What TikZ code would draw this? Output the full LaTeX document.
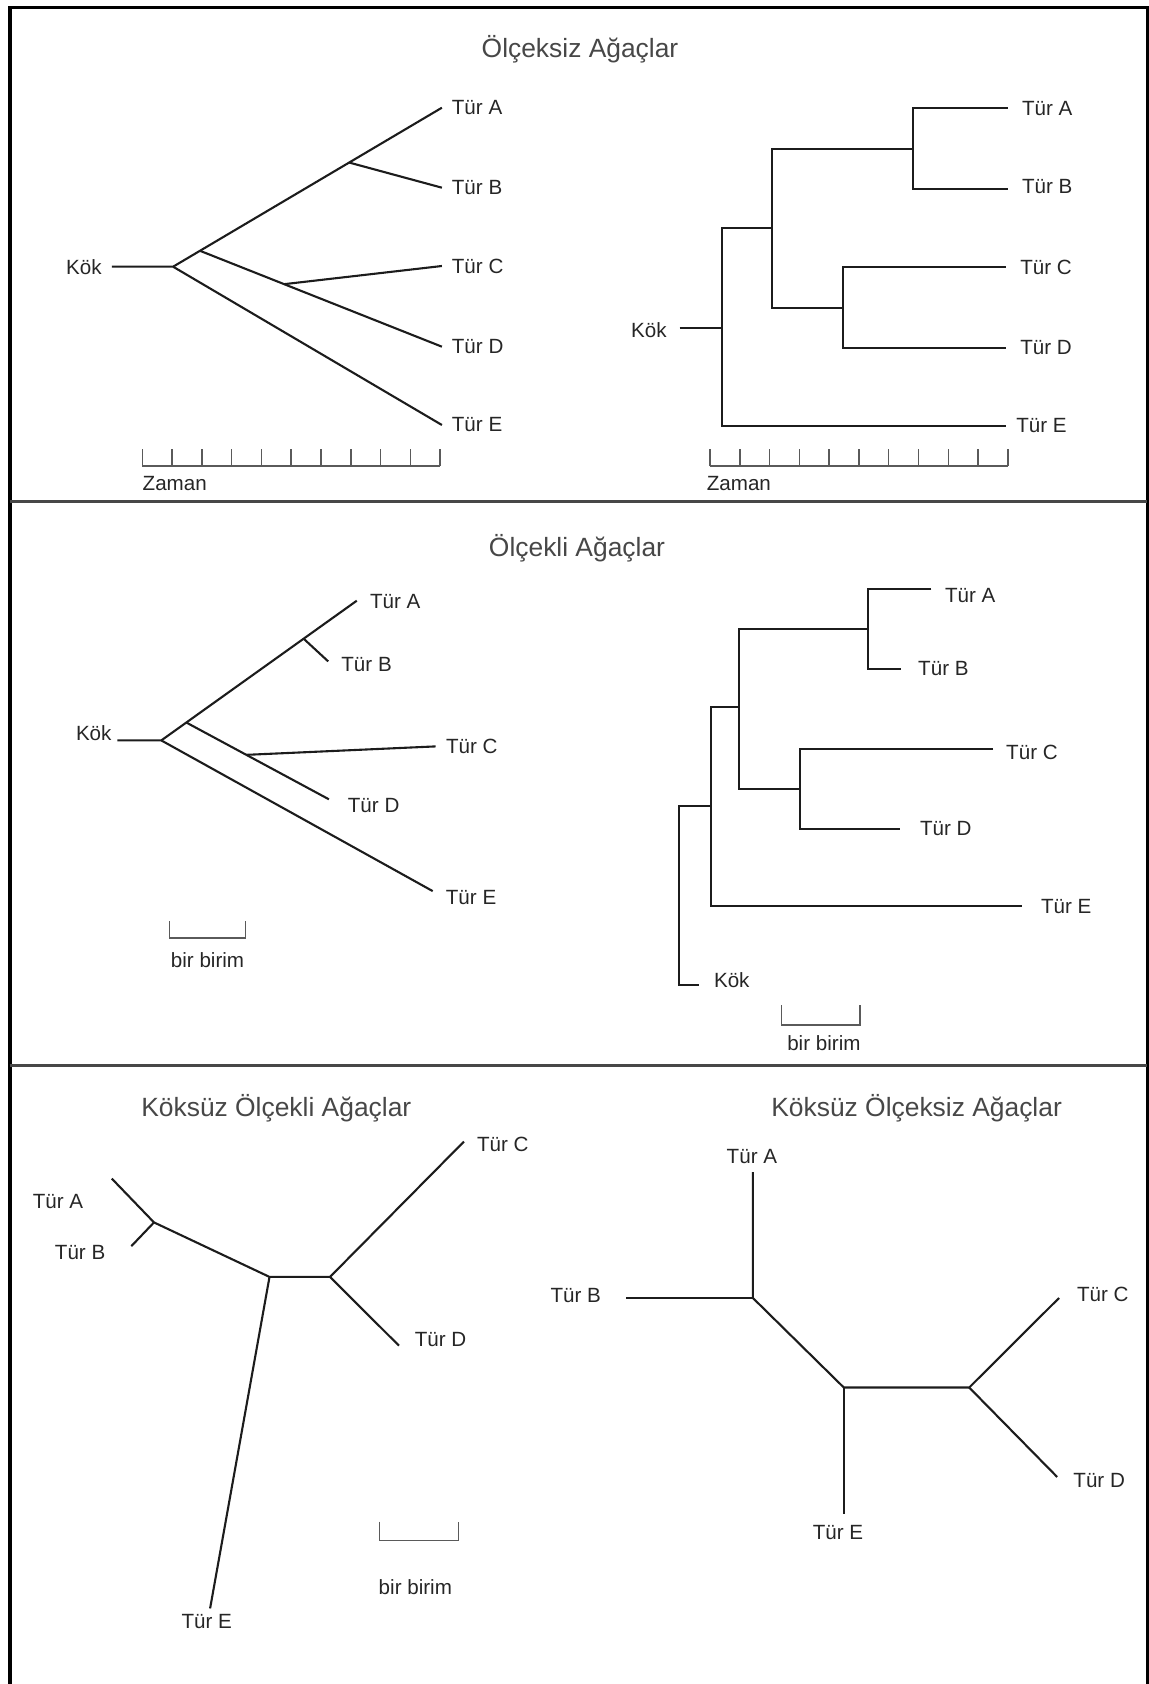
\documentclass[tikz,border=0pt]{standalone}
\usepackage{fontspec}
\setmainfont{Liberation Sans}
\usepackage{tikz}
\usetikzlibrary{positioning, calc}
\definecolor{treeInk}{HTML}{1C1C1C}
\definecolor{labelInk}{HTML}{262626}
\definecolor{titleInk}{HTML}{474747}
\definecolor{rulerInk}{HTML}{5A5A5A}

\begin{document}
\begin{tikzpicture}[
  x=0.5pt, y=-0.5pt,
  outerframe/.style={
    draw=black,
    line width=1.5pt,
    line join=miter
  },
  divider/.style={
    draw=black!72,
    line width=1.5pt
  },
  branch/.style={
    draw=treeInk,
    line width=1.05pt,
    line join=miter
  },
  ruler/.style={
    draw=rulerInk,
    line width=0.75pt
  },
  paneltitle/.style={
    text=titleInk,
    font=\fontsize{13.2}{16}\selectfont,
    inner sep=0pt
  },
  species/.style={
    text=labelInk,
    font=\fontsize{10.3}{12}\selectfont,
    inner sep=0pt
  }
]
\useasboundingbox (0,0) rectangle (1149,1684);

% frame and panel dividers
\draw[outerframe] (9.5,1684) -- (9.5,7.7) -- (1147,7.7) -- (1147,1684);
\draw[outerframe, line width=2pt] (9.5,1684) -- (9.5,6.2);
\draw[divider] (9.5,501) -- (1147,501);
\draw[divider] (9.5,1065) -- (1147,1065);

% titles
\node[paneltitle] (h1) at (580,49) {Ölçeksiz Ağaçlar};
\node[paneltitle] (h2) at (577,548) {Ölçekli Ağaçlar};
\node[paneltitle] (h3) at (276.3,1108.5) {Köksüz Ölçekli Ağaçlar};
\node[paneltitle] (h4) at (916.6,1108.5) {Köksüz Ölçeksiz Ağaçlar};

% tree 1
\coordinate (t1k) at (111.8,266.7);
\coordinate (t1r) at (173.1,266.7);
\coordinate (t1a) at (441.9,107.7);
\coordinate (t1b) at (441.9,187.7);
\coordinate (t1c) at (441.9,266);
\coordinate (t1d) at (441.9,346.7);
\coordinate (t1e) at (441.9,425);
\coordinate (t1ab) at ($(t1r)!0.655!(t1a)$);
\coordinate (t1cd) at ($(t1r)!0.1!(t1a)$);
\coordinate (t1cj) at ($(t1cd)!0.348!(t1d)$);
\draw[branch] (t1k) -- (t1r) -- (t1a);
\draw[branch] (t1ab) -- (t1b);
\draw[branch] (t1cd) -- (t1d);
\draw[branch] (t1cj) -- (t1c);
\draw[branch] (t1r) -- (t1e);
\node[species, left=4.9pt of t1k] (l1k) {Kök};
\foreach \s/\n in {a/A,b/B,c/C,d/D,e/E}
  \node[species, right=4.8pt of t1\s] (l1\s) {Tür \n};

\coordinate (z1) at (142.3,466);
\coordinate (z1e) at (440.1,466);
\draw[ruler] (z1) -- (z1e);
\foreach \i in {0,...,10}
  \draw[ruler] ($(z1)!\i/10!(z1e)$) -- ++(0,-16.7);
\node[species, below right=5pt and 0pt of z1] (z1l) {Zaman};

% tree 2
\coordinate (t2k) at (679.5,327.7);
\coordinate (t2r) at (722.4,327.7);
\coordinate (t2abcd) at (771.9,227.7);
\coordinate (t2ab) at (913.1,149.3);
\coordinate (t2cd) at (842.7,308.3);
\coordinate (t2a) at (1007.7,108.3);
\coordinate (t2b) at (1007.7,189.3);
\coordinate (t2c) at (1005.9,267.3);
\coordinate (t2d) at (1005.9,347.7);
\coordinate (t2e) at (1005.9,426);
\draw[branch] (t2a) -| (t2ab) |- (t2b);
\draw[branch] (t2c) -| (t2cd) |- (t2d);
\draw[branch] (t2ab) -| (t2abcd) |- (t2cd);
\draw[branch] (t2abcd) -| (t2r) |- (t2e);
\draw[branch] (t2k) -- (t2r);
\node[species, left=6.2pt of t2k, yshift=-1.2pt] (l2k) {Kök};
\foreach \s/\n/\dx/\dy in {a/A/7pt/0pt,b/B/7pt/1.2pt,c/C/7pt/0pt,d/D/7pt/0pt,e/E/5pt/0pt}
  \node[species, right=\dx of t2\s, yshift=\dy] (l2\s) {Tür \n};

\coordinate (z2) at (710,466);
\coordinate (z2e) at (1007.8,466);
\draw[ruler] (z2) -- (z2e);
\foreach \i in {0,...,10}
  \draw[ruler] ($(z2)!\i/10!(z2e)$) -- ++(0,-16.7);
\node[species, below right=5pt and -1.8pt of z2] (z2l) {Zaman};

% tree 3
\coordinate (t3k) at (117.3,740.4);
\coordinate (t3r) at (161.3,740.4);
\coordinate (t3a) at (356.8,600.7);
\coordinate (t3b) at (328.2,661.4);
\coordinate (t3c) at (435.6,746.4);
\coordinate (t3d) at (328.9,799.3);
\coordinate (t3e) at (432.7,891.1);
\coordinate (t3ab) at ($(t3r)!0.728!(t3a)$);
\coordinate (t3cd) at ($(t3r)!0.128!(t3a)$);
\coordinate (t3cj) at ($(t3cd)!0.421!(t3d)$);
\draw[branch] (t3k) -- (t3r) -- (t3a);
\draw[branch] (t3ab) -- (t3b);
\draw[branch] (t3cd) -- (t3d);
\draw[branch] (t3cj) -- (t3c);
\draw[branch] (t3r) -- (t3e);
\node[species, anchor=base east] (l3k) at ([xshift=-2.7pt]t3k) {Kök};
\foreach \s/\n/\dx/\dy in {a/A/6.4pt/-0.5pt,b/B/6.4pt/-1.8pt,c/C/5pt/0pt,d/D/9.3pt/-3.3pt,e/E/6.4pt/-3pt}
  \node[species, right=\dx of t3\s, yshift=\dy] (l3\s) {Tür \n};

\coordinate (z3) at (169.4,938.2);
\coordinate (z3e) at (245.7,938.2);
\coordinate (z3m) at ($(z3)!0.5!(z3e)$);
\draw[ruler] (z3) ++(0,-16.8) -- (z3) -- (z3e) -- ++(0,-16.8);
\node[species, below=7pt of z3m] (z3l) {bir birim};

% tree 4
\coordinate (t4a) at (931.4,588.6);
\coordinate (t4b) at (901.4,668.6);
\coordinate (t4ab) at (868.4,629.3);
\coordinate (t4c) at (993,749.3);
\coordinate (t4d) at (900.3,828.6);
\coordinate (t4cd) at (799.8,788.6);
\coordinate (t4abcd) at (738.9,707.1);
\coordinate (t4e) at (1022.4,906.4);
\coordinate (t4r) at (710.7,806.4);
\coordinate (t4kc) at (678.8,985);
\coordinate (t4k) at (698.6,985);
\draw[branch] (t4a) -| (t4ab) |- (t4b);
\draw[branch] (t4c) -| (t4cd) |- (t4d);
\draw[branch] (t4ab) -| (t4abcd) |- (t4cd);
\draw[branch] (t4abcd) -| (t4r) |- (t4e);
\draw[branch] (t4r) -| (t4kc) -- (t4k);
\node[species, right=7.5pt of t4k, yshift=2.3pt] (l4k) {Kök};
\foreach \s/\n/\dx/\dy in {a/A/6.6pt/-3.5pt,b/B/8.2pt/0pt,c/C/6.4pt/-1.4pt,d/D/9.7pt/0pt,e/E/9.1pt/0pt}
  \node[species, right=\dx of t4\s, yshift=\dy] (l4\s) {Tür \n};

\coordinate (z4) at (781.5,1025);
\coordinate (z4e) at (859.9,1025);
\coordinate (z4m) at ($(z4)!0.5!(z4e)$);
\draw[ruler] (z4) ++(0,-19.6) -- (z4) -- (z4e) -- ++(0,-19.6);
\node[species, below=5.2pt of z4m, xshift=1.6pt] (z4l) {bir birim};

% tree 5
\coordinate (t5a) at (111.8,1178.6);
\coordinate (t5ab) at (154,1222.4);
\coordinate (t5b) at (131.3,1246.2);
\coordinate (t5x) at (269.5,1276.9);
\coordinate (t5y) at (330,1276.9);
\coordinate (t5c) at (463.9,1141.6);
\coordinate (t5d) at (399,1345.7);
\coordinate (t5e) at (210.1,1608.4);
\draw[branch] (t5a) -- (t5ab) -- (t5x) -- (t5y) -- (t5c);
\draw[branch] (t5ab) -- (t5b);
\draw[branch] (t5y) -- (t5d);
\draw[branch] (t5x) -- (t5e);
\node[species, left=14.1pt of t5a, yshift=-11.7pt] (l5a) {Tür A};
\node[species, left=12.8pt of t5b, yshift=-3pt] (l5b) {Tür B};
\node[species, right=6.4pt of t5c, yshift=-1.4pt] (l5c) {Tür C};
\node[species, right=7.7pt of t5d, yshift=3pt] (l5d) {Tür D};
\node[species, below=2.6pt of t5e, xshift=-1.7pt] (l5e) {Tür E};

\coordinate (z5) at (379.5,1540.7);
\coordinate (z5e) at (458.4,1540.7);
\coordinate (z5m) at ($(z5)!0.5!(z5e)$);
\draw[ruler] (z5) ++(0,-19.1) -- (z5) -- (z5e) -- ++(0,-19.1);
\node[species, below=19pt of z5m, xshift=-1.8pt] (z5l) {bir birim};

% tree 6
\coordinate (t6a) at (752.9,1172.2);
\coordinate (t6ab) at (752.9,1298);
\coordinate (t6b) at (626.3,1298);
\coordinate (t6abe) at (843.8,1387.5);
\coordinate (t6e) at (843.8,1513.6);
\coordinate (t6cd) at (969.2,1387.5);
\coordinate (t6c) at (1059,1298);
\coordinate (t6d) at (1057.2,1477);
\draw[branch] (t6a) -- (t6ab) -- (t6abe) -- (t6cd) -- (t6c);
\draw[branch] (t6b) -- (t6ab);
\draw[branch] (t6abe) -- (t6e);
\draw[branch] (t6cd) -- (t6d);
\node[species, above=4pt of t6a, xshift=-0.5pt] (l6a) {Tür A};
\node[species, left=12.5pt of t6b, yshift=1.5pt] (l6b) {Tür B};
\node[species, right=8.8pt of t6c, yshift=2pt] (l6c) {Tür C};
\node[species, right=7.9pt of t6d, yshift=-1.8pt] (l6d) {Tür D};
\node[species, below=5.9pt of t6e, xshift=-2.9pt] (l6e) {Tür E};

\end{tikzpicture}
\end{document}
